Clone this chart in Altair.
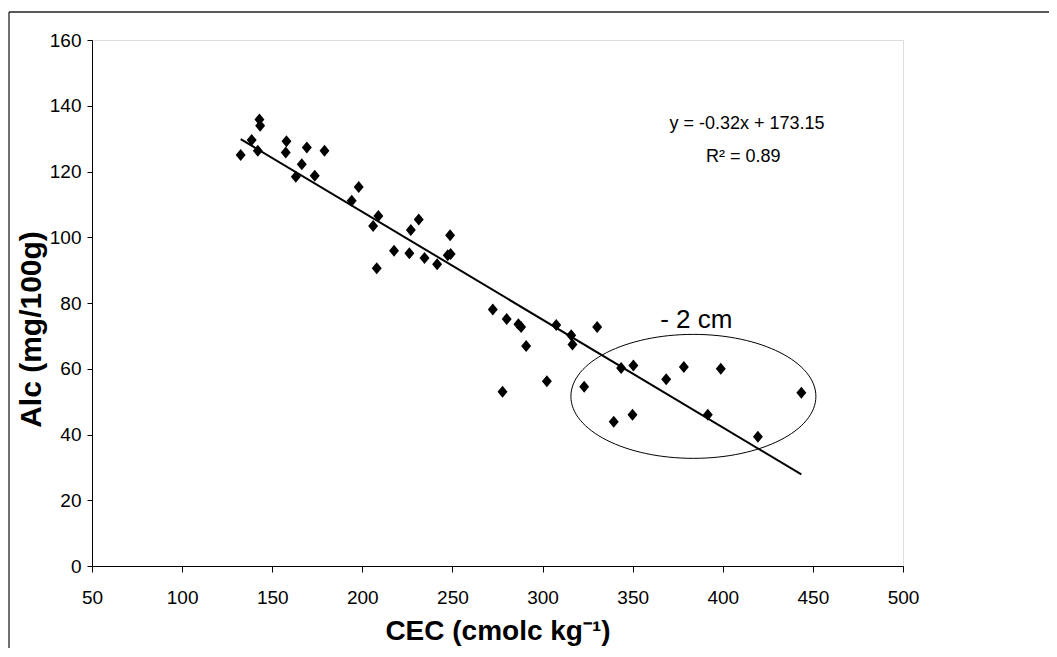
import altair as alt
import pandas as pd

# ---- data ----
cec = [132.5, 138.6, 142.0, 142.9, 143.3, 157.9, 157.5, 169.2, 179.0, 166.4,
       163.1, 173.6, 198.0, 194.1, 208.9, 206.0, 208.0, 231.3, 226.9, 248.7,
       217.6, 226.1, 234.5, 241.5, 247.4, 249.0, 272.4, 280.1, 286.6, 288.1,
       290.9, 277.8, 302.4, 307.6, 315.9, 316.6, 330.3, 323.1, 343.6, 350.4,
       339.5, 349.9, 368.6, 378.4, 398.9, 391.7, 419.5, 443.6]
alc = [125.0, 129.6, 126.3, 135.8, 133.9, 129.2, 125.8, 127.3, 126.3, 122.2,
       118.4, 118.7, 115.3, 111.1, 106.5, 103.4, 90.6, 105.4, 102.2, 100.6,
       95.9, 95.1, 93.7, 91.8, 94.5, 94.9, 78.0, 75.1, 73.5, 72.7,
       66.9, 53.0, 56.2, 73.3, 70.2, 67.4, 72.7, 54.5, 60.2, 61.0,
       43.9, 46.0, 56.8, 60.5, 60.0, 46.0, 39.3, 52.7]

x_ticks = [50, 100, 150, 200, 250, 300, 350, 400, 450, 500]
y_ticks = [0, 20, 40, 60, 80, 100, 120, 140, 160]

eq_texts = ["y = -0.32x + 173.15", "R² = 0.89"]
group_label = ["- 2 cm"]

# annotation anchors (data units)
eq_x = [413.4, 411.4]
eq_y = [134.4, 124.4]
grp_x = [385.3]
grp_y = [74.8]
ell_x = [383.7]
ell_y = [51.6]

df = pd.DataFrame({"cec": cec, "alc": alc})
eq_df = pd.DataFrame({"t": eq_texts, "x": eq_x, "y": eq_y})
grp_df = pd.DataFrame({"t": group_label, "x": grp_x, "y": grp_y})
ell_df = pd.DataFrame({"x": ell_x, "y": ell_y})
one = pd.DataFrame({"a": [0]})

NARROW = "Liberation Sans Narrow, Arial Narrow, Liberation Sans, Arial"
SANS = "Liberation Sans, Arial"

xs = alt.Scale(domain=[50, 500], nice=False, zero=False)
ys = alt.Scale(domain=[0, 160], nice=False)

xax = alt.Axis(values=x_ticks, grid=False, title="CEC (cmolc kg⁻¹)",
               labelFont=NARROW, labelFontSize=19, labelColor="black",
               labelBaseline="alphabetic", labelPadding=31, tickSize=6,
               labelFlush=False, labelOverlap=False,
               tickColor="black", domainColor="black", domainWidth=1,
               titleFont=SANS, titleFontSize=28, titleFontWeight="bold",
               titleColor="black", titleBaseline="alphabetic", titleY=73)
yax = alt.Axis(values=y_ticks, grid=False, title="Alc (mg/100g)",
               labelFont=NARROW, labelFontSize=19, labelColor="black",
               labelPadding=6, tickSize=5, tickColor="black",
               labelFlush=False, labelOverlap=False,
               domainColor="black", domainWidth=1,
               titleFont=SANS, titleFontSize=30, titleFontWeight="bold",
               titleColor="black", titleAngle=270, titleBaseline="middle",
               titleX=-61, titleY=289)

diamond = "M0,-1L0.83,0L0,1L-0.83,0Z"
ellipse = "M-1,0A1,0.506 0 1,0 1,0A1,0.506 0 1,0 -1,0Z"

points = alt.Chart(df).mark_point(
    shape=diamond, filled=True, size=144, color="black", opacity=1
).encode(
    x=alt.X("cec:Q", scale=xs, axis=xax),
    y=alt.Y("alc:Q", scale=ys, axis=yax),
)

fit = alt.Chart(df).transform_regression("cec", "alc").mark_line(
    color="black", strokeWidth=2
).encode(x=alt.X("cec:Q", scale=xs), y=alt.Y("alc:Q", scale=ys))

ell = alt.Chart(ell_df).mark_point(
    shape=ellipse, filled=False, size=60025, color="black",
    strokeWidth=1, opacity=1
).encode(x=alt.X("x:Q", scale=xs), y=alt.Y("y:Q", scale=ys))

eq = alt.Chart(eq_df).mark_text(
    font=NARROW, fontSize=18, color="black", align="center", baseline="middle"
).encode(x=alt.X("x:Q", scale=xs), y=alt.Y("y:Q", scale=ys), text="t:N")

grp = alt.Chart(grp_df).mark_text(
    font=SANS, fontSize=26, color="black", align="center", baseline="middle"
).encode(x=alt.X("x:Q", scale=xs), y=alt.Y("y:Q", scale=ys), text="t:N")

frame_left = alt.Chart(one).mark_rule(color="#222", strokeWidth=1.3).encode(
    x=alt.value(-83), y=alt.value(-28), y2=alt.value(700))
frame_top = alt.Chart(one).mark_rule(color="#222", strokeWidth=1.3).encode(
    x=alt.value(-83), x2=alt.value(1100), y=alt.value(-28))

chart = alt.layer(frame_left, frame_top, ell, fit, points, eq, grp).properties(
    width=811, height=526,
    autosize=alt.AutoSizeParams(type="none"),
    padding={"left": 84, "top": 32, "right": 146, "bottom": 82},
).configure_view(stroke="#b8b8b8", strokeWidth=2).configure(background="white")

chart.save("out.html", embed_options={"renderer": "svg", "actions": False})
